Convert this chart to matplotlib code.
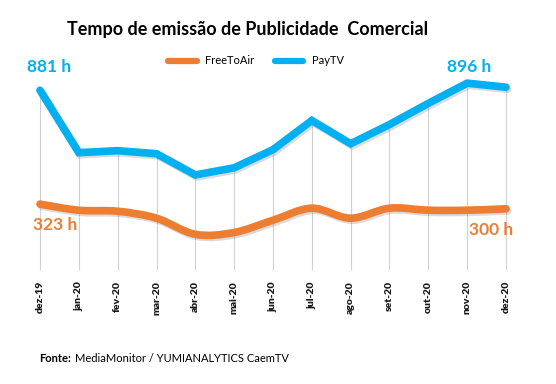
import matplotlib
matplotlib.use("Agg")
import matplotlib.pyplot as plt
import matplotlib.patheffects as pe
from matplotlib.path import Path
from matplotlib.patches import PathPatch
from matplotlib.lines import Line2D
import numpy as np

months = ["dez-19", "jan-20", "fev-20", "mar-20", "abr-20", "mai-20", "jun-20",
          "jul-20", "ago-20", "set-20", "out-20", "nov-20", "dez-20"]
pay_tv = [881, 575, 585, 570, 466, 501, 590, 733, 619, 713, 817, 916, 896]
free_to_air = [323, 293, 288, 254, 175, 184, 244, 303, 254, 303, 293, 293, 300]

blue = "#00B0F0"
orange = "#ED7D31"

plt.rcParams['font.family'] = ['Lato', 'DejaVu Sans']

fig = plt.figure(figsize=(5.56, 3.84), dpi=100)
ax = fig.add_axes([40 / 556, 1 - 270 / 384, 466 / 556, 204 / 384])
x = np.arange(len(months))
ax.set_xlim(0, len(months) - 1)
ax.set_ylim(0, 1000)

shadow = [pe.SimpleLineShadow(offset=(1.2, -1.5), shadow_color="0.45", alpha=0.25), pe.Normal()]

# drop lines from the PayTV points
ax.vlines(x, 0, pay_tv, color="#D0D0D0", lw=0.8, zorder=1, clip_on=False)

# PayTV: straight segments
ax.plot(x, pay_tv, color=blue, lw=5.5, solid_capstyle="round", solid_joinstyle="miter",
        path_effects=shadow, zorder=3, clip_on=False)

# FreeToAir: smoothed curve (bezier through the points)
pts = np.column_stack([x, free_to_air]).astype(float)
verts = [pts[0]]
codes = [Path.MOVETO]
n = len(pts)
for i in range(n - 1):
    p0 = pts[i - 1] if i > 0 else pts[i]
    p1 = pts[i]
    p2 = pts[i + 1]
    p3 = pts[i + 2] if i + 2 < n else pts[i + 1]
    verts += [p1 + (p2 - p0) / 6, p2 - (p3 - p1) / 6, p2]
    codes += [Path.CURVE4] * 3
patch = PathPatch(Path(verts, codes), facecolor="none", edgecolor=orange, lw=5.5,
                  capstyle="round", path_effects=shadow, zorder=3, clip_on=False)
ax.add_patch(patch)

for s in ax.spines.values():
    s.set_visible(False)
ax.set_yticks([])
ax.set_xticks(x)
ax.set_xticklabels(months, rotation=90, fontsize=7.5, fontweight="heavy", color="#1a1a1a")
ax.tick_params(axis="x", length=0, pad=8)

# value labels
fig.text(49 / 556, 1 - 67 / 384, "881 h", color=blue, fontsize=12.5, fontweight="bold",
         ha="center", va="center")
fig.text(469 / 556, 1 - 67 / 384, "896 h", color=blue, fontsize=12.5, fontweight="bold",
         ha="center", va="center")
fig.text(55 / 556, 1 - 225 / 384, "323 h", color=orange, fontsize=12.5, fontweight="bold",
         ha="center", va="center")
fig.text(491 / 556, 1 - 230 / 384, "300 h", color=orange, fontsize=12.5, fontweight="bold",
         ha="center", va="center")

fig.text(248 / 556, 1 - 30 / 384, "Tempo de emissão de Publicidade  Comercial",
         fontsize=13, fontweight="bold", ha="center", va="center")

handles = [Line2D([], [], color=orange, lw=4.5, solid_capstyle="round"),
           Line2D([], [], color=blue, lw=4.5, solid_capstyle="round")]
fig.legend(handles, ["FreeToAir", "PayTV"], loc="center", bbox_to_anchor=(256 / 556, 1 - 61 / 384),
           ncol=2, frameon=False, fontsize=8, handlelength=2.6, columnspacing=1.8, handletextpad=0.8)

fig.text(39 / 556, 1 - 358 / 384, "Fonte:", fontsize=8, fontweight="bold", va="center")
fig.text(75 / 556, 1 - 358 / 384, "MediaMonitor / YUMIANALYTICS CaemTV", fontsize=8, va="center")

fig.savefig("out.png", dpi=100)
